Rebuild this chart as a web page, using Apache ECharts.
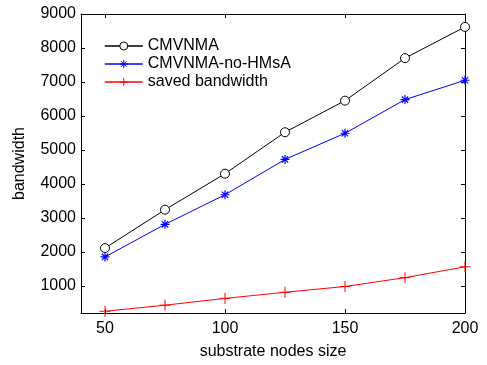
<!DOCTYPE html>
<html>
<head>
<meta charset="utf-8">
<script src="https://cdn.jsdelivr.net/npm/echarts@6/dist/echarts.min.js"></script>
<style>
  html, body { margin: 0; padding: 0; background: #fff; }
  #chart { width: 487px; height: 365px; }
</style>
</head>
<body>
<div id="chart"></div>
<script>
const nodeSizes = [50, 75, 100, 125, 150, 175, 200];
const cmvnma = [2110, 3240, 4300, 5520, 6450, 7700, 8620];
const cmvnmaNoHMsA = [1850, 2810, 3680, 4720, 5490, 6480, 7050];
const savedBandwidth = [250, 430, 630, 810, 980, 1240, 1560];
const xTicks = [50, 100, 150, 200];
const yTicks = [1000, 2000, 3000, 4000, 5000, 6000, 7000, 8000, 9000];

const font = "Liberation Sans, Arial, sans-serif";
const starPath = "path://M0,-5L0,5M-5,0L5,0M-3.5,-3.5L3.5,3.5M-3.5,3.5L3.5,-3.5";
const plusPath = "path://M0,-5L0,5M-5,0L5,0";

const chart = echarts.init(document.getElementById("chart"));

const toPairs = (ys) => ys.map((y, i) => [nodeSizes[i], y]);

const baseX = {
  type: "value", min: 40, max: 200,
  axisLine: { lineStyle: { color: "#000", width: 1 } },
  axisTick: { inside: true, length: 4, customValues: xTicks, lineStyle: { color: "#000" } },
  splitLine: { show: false },
};
const baseY = {
  type: "value", min: 200, max: 9000,
  axisLine: { lineStyle: { color: "#000", width: 1 } },
  axisTick: { inside: true, length: 4, customValues: yTicks, lineStyle: { color: "#000" } },
  splitLine: { show: false },
};

chart.setOption({
  animation: false,
  backgroundColor: "#fff",
  textStyle: { fontFamily: font },
  grid: { left: 81, right: 22, top: 14, bottom: 46 },
  legend: {
    orient: "vertical",
    left: 99, top: 33,
    itemWidth: 38, itemHeight: 10, itemGap: 2,
    itemStyle: { borderWidth: 1 },
    lineStyle: { width: 1.5 },
    textStyle: { fontSize: 16, color: "#000", fontFamily: font },
    data: ["CMVNMA", "CMVNMA-no-HMsA", "saved bandwidth"],
  },
  xAxis: [
    {
      ...baseX, position: "bottom",
      name: "substrate nodes size", nameLocation: "middle", nameGap: 31,
      nameTextStyle: { fontSize: 16, color: "#000", fontFamily: font },
      axisLabel: { customValues: xTicks, fontSize: 16, color: "#000", margin: 8, fontFamily: font },
    },
    { ...baseX, position: "top", axisLabel: { show: false } },
  ],
  yAxis: [
    {
      ...baseY, position: "left",
      name: "bandwidth", nameLocation: "middle", nameGap: 53,
      nameTextStyle: { fontSize: 16, color: "#000", fontFamily: font },
      axisLabel: {
        customValues: yTicks, fontSize: 16, color: "#000", margin: 5, fontFamily: font,
        formatter: (v) => String(v),
      },
    },
    { ...baseY, position: "right", axisLabel: { show: false } },
  ],
  series: [
    {
      name: "CMVNMA", type: "line", data: toPairs(cmvnma),
      symbol: "circle", symbolSize: 9,
      lineStyle: { color: "#000", width: 1 },
      itemStyle: { color: "#fff", borderColor: "#000", borderWidth: 1 },
    },
    {
      name: "CMVNMA-no-HMsA", type: "line", data: toPairs(cmvnmaNoHMsA),
      symbol: starPath, symbolSize: 9,
      lineStyle: { color: "#0000ff", width: 1 },
      itemStyle: { color: "#0000ff", borderColor: "#0000ff", borderWidth: 1.2 },
    },
    {
      name: "saved bandwidth", type: "line", data: toPairs(savedBandwidth),
      symbol: plusPath, symbolSize: 11,
      lineStyle: { color: "#ff0000", width: 1 },
      itemStyle: { color: "#ff0000", borderColor: "#ff0000", borderWidth: 1 },
    },
  ],
});
</script>
</body>
</html>
